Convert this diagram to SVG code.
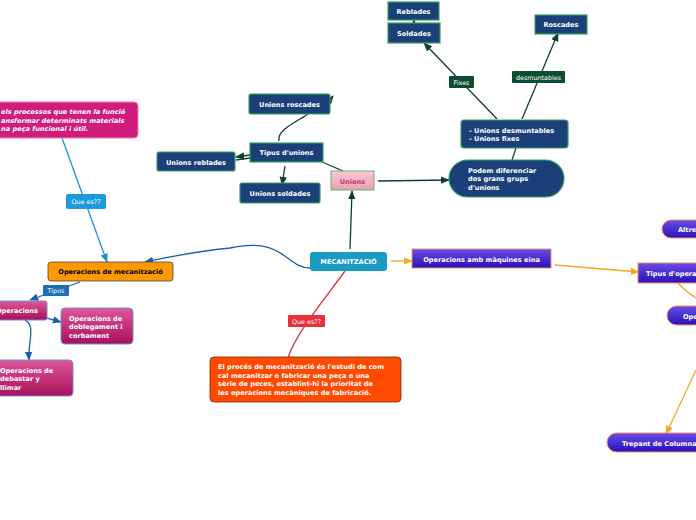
<svg xmlns="http://www.w3.org/2000/svg" width="696" height="520" viewBox="0 0 696 520">
<defs>
<linearGradient id="gPink" x1="0" y1="0" x2="0" y2="1"><stop offset="0" stop-color="#e0569a"/><stop offset="1" stop-color="#a8105a"/></linearGradient>
<linearGradient id="gPurple" x1="0" y1="0" x2="0" y2="1"><stop offset="0" stop-color="#6a4ee8"/><stop offset="1" stop-color="#2a0fb8"/></linearGradient>
<linearGradient id="gUnions" x1="0" y1="0" x2="0" y2="1"><stop offset="0" stop-color="#f8c8d6"/><stop offset="1" stop-color="#eaa0b8"/></linearGradient>
<marker id="aG" viewBox="0 0 10 10" refX="9" refY="5" markerWidth="7" markerHeight="7" orient="auto-start-reverse"><path d="M0,1 L10,5 L0,9 z" fill="#0d4030"/></marker>
<marker id="aB" viewBox="0 0 10 10" refX="9" refY="5" markerWidth="7" markerHeight="7" orient="auto"><path d="M0,1 L10,5 L0,9 z" fill="#1a5fa8"/></marker>
<marker id="aL" viewBox="0 0 10 10" refX="9" refY="5" markerWidth="7" markerHeight="7" orient="auto"><path d="M0,1 L10,5 L0,9 z" fill="#1e90d8"/></marker>
<marker id="aO" viewBox="0 0 10 10" refX="9" refY="5" markerWidth="7" markerHeight="7" orient="auto"><path d="M0,1 L10,5 L0,9 z" fill="#f5a623"/></marker>
</defs>
<style>
text{font-family:"DejaVu Sans","Verdana",sans-serif;font-weight:bold;font-size:6.6px;fill:#fff}
.lbl{font-weight:normal;font-size:6.4px}
.dk{fill:#1b3f78;stroke:#3aa060;stroke-width:1.2}
.pk{fill:url(#gPink);stroke:#6f8fd8;stroke-width:1}
.pu{fill:url(#gPurple);stroke:#f29060;stroke-width:1}
.gl{fill:none;stroke:#0d4030;stroke-width:1.3}
.bl{fill:none;stroke:#1a5fa8;stroke-width:1.3}
.lb{fill:none;stroke:#1e90d8;stroke-width:1.3}
.ol{fill:none;stroke:#f5a623;stroke-width:1.3}
.rl{fill:none;stroke:#e02a3a;stroke-width:1.3}
</style>
<rect width="696" height="520" fill="#fff"/>
<g id="connectors">
<path class="lb" d="M62,138 L107,262" marker-end="url(#aL)"/>
<path class="bl" d="M310,268 C285,268 285,236 230,248 C190,252 165,258 145,262" marker-end="url(#aB)"/>
<path class="bl" d="M80,282 L30,300" marker-end="url(#aB)"/>
<path class="bl" d="M47,318 L61,322" marker-end="url(#aB)"/>
<path class="bl" d="M25,320 C36,326 28,340 29,360" marker-end="url(#aB)"/>
<path class="rl" d="M345,271 C320,305 295,335 288,358"/>
<path class="gl" d="M350,249 L352,191" marker-end="url(#aG)"/>
<path class="gl" d="M378,181 L449,180" marker-end="url(#aG)"/>
<path class="gl" d="M343,171 L322,162"/>
<path class="gl" d="M279,141 C276,130 300,120 308,114"/>
<path class="gl" d="M330,100 L333,96" marker-end="url(#aG)"/>
<path class="gl" d="M250,155 L236,157" marker-end="url(#aG)"/>
<path class="gl" d="M250,158 L236,160"/>
<path class="gl" d="M285,166 L282,185" marker-end="url(#aG)"/>
<path class="gl" d="M512,160 L516,148"/>
<path class="gl" d="M497,119 L424,43" marker-end="url(#aG)"/>
<path class="gl" d="M522,119 L558,33" marker-end="url(#aG)"/>
<path class="gl" d="M414,23 L414,20" marker-end="url(#aG)"/>
<path class="ol" d="M391,261 L412,261" marker-end="url(#aO)"/>
<path class="ol" d="M555,265 L639,272" marker-end="url(#aO)"/>
<path class="ol" d="M678,283 C684,290 690,294 696,298"/>
<path class="ol" d="M696,370 L666,434" marker-end="url(#aO)"/>
</g>
<g id="n-def-mec">
<rect x="-10" y="102" width="148" height="36" rx="4" fill="#d01c7c" stroke="#e87ab0" stroke-width="1"/>
<text x="1" y="114" style="font-style:italic">els processos que tenen la funció</text>
<text x="1" y="122.5" style="font-style:italic">ansformar determinats materials</text>
<text x="1" y="131" style="font-style:italic">na peça funcional i útil.</text>
</g>
<g id="l-queesa">
<rect x="66" y="194" width="40" height="15" rx="2" fill="#1a9be0"/>
<text class="lbl" x="86" y="204" text-anchor="middle">Que es??</text>
</g>
<g id="n-opmec">
<rect x="48" y="262" width="125" height="19" rx="3" fill="#ff9900" stroke="#444" stroke-width="0.8"/>
<text x="110.5" y="274" text-anchor="middle" style="fill:#000">Operacions de mecanització</text>
</g>
<g id="l-tipos">
<rect x="43" y="285" width="26" height="11" rx="1" fill="#1a6fb5"/>
<text class="lbl" x="56" y="293" text-anchor="middle">Tipos</text>
</g>
<g id="n-operacions">
<rect x="-6" y="301" width="53" height="19" rx="2" class="pk"/>
<text x="-4" y="313">Operacions</text>
</g>
<g id="n-doblegament">
<rect x="61" y="308" width="72" height="36" rx="4" class="pk"/>
<text x="69" y="320.5">Operacions de</text>
<text x="69" y="329">doblegament i</text>
<text x="69" y="337.5">corbament</text>
</g>
<g id="n-debastar">
<rect x="-6" y="360" width="79" height="36" rx="4" class="pk"/>
<text x="0" y="372.5">Operacions de</text>
<text x="0" y="381">debastar y</text>
<text x="0" y="389.5">llimar</text>
</g>
<g id="n-mec">
<rect x="310" y="252" width="77" height="19" rx="3" fill="#199bc2"/>
<text x="348.5" y="264" text-anchor="middle">MECANITZACIÓ</text>
</g>
<g id="l-queesb">
<rect x="288" y="315" width="37" height="12" rx="1" fill="#e8303a"/>
<text class="lbl" x="306.5" y="323.5" text-anchor="middle">Que es??</text>
</g>
<g id="n-proces">
<rect x="210" y="357" width="191" height="45" rx="4" fill="#ff4a00" stroke="#7a2500" stroke-width="0.8"/>
<text x="218" y="369">El procés de mecanització és l'estudi de com</text>
<text x="218" y="377.5">cal mecanitzar o fabricar una peça o una</text>
<text x="218" y="386">sèrie de peces, establint-hi la prioritat de</text>
<text x="218" y="394.5">les operacions mecàniques de fabricació.</text>
</g>
<g id="n-unions">
<rect x="331" y="171" width="43" height="19" fill="url(#gUnions)" stroke="#6ab06a" stroke-width="1"/>
<text x="352.5" y="183.5" text-anchor="middle" style="fill:#c8306a">Unions</text>
</g>
<g id="n-tipusunions">
<rect x="250" y="143" width="73" height="19" class="dk"/>
<text x="286.5" y="155" text-anchor="middle">Tipus d'unions</text>
</g>
<g id="n-roscades">
<rect x="249" y="94" width="81" height="20" rx="2" class="dk"/>
<text x="289.5" y="106.5" text-anchor="middle">Unions roscades</text>
</g>
<g id="n-reblades">
<rect x="157" y="152" width="78" height="19" rx="2" class="dk"/>
<text x="196" y="164.5" text-anchor="middle">Unions reblades</text>
</g>
<g id="n-soldades">
<rect x="240" y="183" width="80" height="20" rx="2" class="dk"/>
<text x="280" y="195.5" text-anchor="middle">Unions soldades</text>
</g>
<g id="n-podem">
<rect x="449" y="160" width="115" height="37" rx="18.5" class="dk"/>
<text x="468" y="172.5">Podem diferenciar</text>
<text x="468" y="181">dos grans grups</text>
<text x="468" y="189.5">d'unions</text>
</g>
<g id="n-tipus2">
<rect x="461" y="120" width="107" height="28" rx="3" class="dk"/>
<text x="469" y="132.5">- Unions desmuntables</text>
<text x="469" y="141">- Unions fixes</text>
</g>
<g id="l-fixes">
<rect x="449" y="76" width="25" height="12" rx="1" fill="#0d4d2f"/>
<text class="lbl" x="461.5" y="84.5" text-anchor="middle">Fixes</text>
</g>
<g id="l-desm">
<rect x="512" y="71" width="53" height="12" rx="1" fill="#0d4d2f"/>
<text class="lbl" x="538.5" y="79.5" text-anchor="middle">desmuntables</text>
</g>
<g id="n-reblades2">
<rect x="388" y="2" width="51" height="18" class="dk"/>
<text x="413.5" y="14" text-anchor="middle">Reblades</text>
</g>
<g id="n-soldades2">
<rect x="388" y="23" width="52" height="20" class="dk"/>
<text x="414" y="36" text-anchor="middle">Soldades</text>
</g>
<g id="n-roscades2">
<rect x="535" y="15" width="52" height="19" class="dk"/>
<text x="561" y="27" text-anchor="middle">Roscades</text>
</g>
<g id="n-maquines">
<rect x="412" y="249" width="139" height="19" class="pu"/>
<text x="481.5" y="261.5" text-anchor="middle">Operacions amb màquines eina</text>
</g>
<g id="n-tipusop">
<rect x="638" y="263" width="66" height="20" class="pu"/>
<text x="646" y="276">Tipus d'operacions</text>
</g>
<g id="n-altres">
<rect x="662" y="220" width="60" height="18" rx="9" class="pu"/>
<text x="678" y="232">Altres</text>
</g>
<g id="n-ope">
<rect x="667" y="306" width="60" height="19" rx="9.5" class="pu"/>
<text x="683" y="318.5">Operacions</text>
</g>
<g id="n-trepant">
<rect x="607" y="433" width="110" height="19" rx="9.5" class="pu"/>
<text x="622" y="445.5">Trepant de Columna</text>
</g>
</svg>
